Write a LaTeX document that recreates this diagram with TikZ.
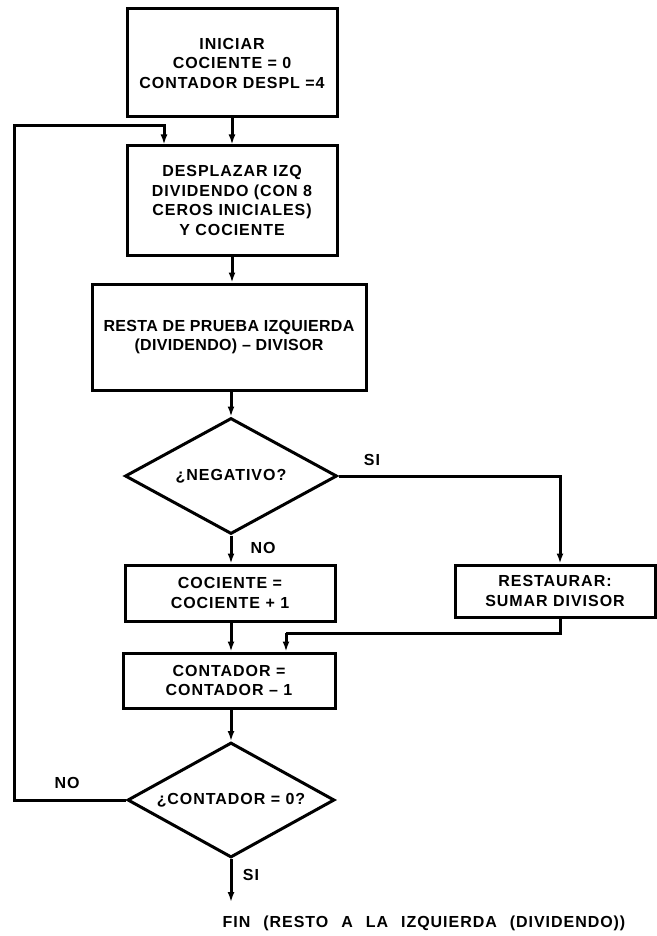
\documentclass[tikz,border=0pt]{standalone}
\usepackage{fontspec}
\setmainfont{Liberation Sans}[LetterSpace=6]
\usetikzlibrary{shapes.geometric,arrows.meta}
\begin{document}
\begin{tikzpicture}[x=1pt,y=-1pt,
  every node/.style={font=\fontsize{16}{19.5}\selectfont\bfseries, align=center, inner sep=0pt},
  box/.style={draw, line width=3pt, rectangle},
  decision/.style={draw, line width=3pt, diamond, aspect=1.8},
  flow/.style={line width=3pt, -{Latex[length=10pt,width=7pt]}},
  wire/.style={line width=3pt},
  lbl/.style={font=\fontsize{16}{19.5}\selectfont\bfseries}]
\useasboundingbox (0,0) rectangle (656,936);

\node[box, minimum width=210pt, minimum height=108pt] (init) at (232,63)
  {INICIAR\\COCIENTE = 0\\CONTADOR DESPL =4};
\node[box, minimum width=210pt, minimum height=109pt] (shift) at (232,200.5)
  {DESPLAZAR IZQ\\DIVIDENDO (CON 8\\CEROS INICIALES)\\Y COCIENTE};
\node[box, minimum width=274pt, minimum height=106pt,
      font=\fontsize{16}{19.5}\selectfont\bfseries\addfontfeature{LetterSpace=2}] (sub) at (229,337)
  {RESTA DE PRUEBA IZQUIERDA\\(DIVIDENDO) -- DIVISOR};
\node[decision, minimum width=212pt, minimum height=116pt] (neg) at (231,476)
  {¿NEGATIVO?};
\node[box, minimum width=210pt, minimum height=56pt] (inc) at (230,593)
  {COCIENTE =\\COCIENTE + 1};
\node[box, minimum width=200pt, minimum height=52pt] (rest) at (555,591)
  {RESTAURAR:\\SUMAR DIVISOR};
\node[box, minimum width=212pt, minimum height=55pt] (dec) at (229,680.5)
  {CONTADOR =\\CONTADOR -- 1};
\node[decision, minimum width=207pt, minimum height=115pt] (zero) at (231,800)
  {¿CONTADOR = 0?};
\node (fin) at (424,923) {\spaceskip=13pt FIN (RESTO A LA IZQUIERDA (DIVIDENDO))};

\coordinate (loopL) at (14,800);
\coordinate (loopT) at (14,126);
\coordinate (loopR) at (164,126);
\coordinate (siR) at (560,476);
\coordinate (mergeA) at (560,633);
\coordinate (mergeB) at (286,633);
\coordinate (endp) at (231,902);

\draw[flow] (init.south -| shift.north) -- (shift.north);
\draw[flow] (shift) -- (shift.south |- sub.north);
\draw[flow] (sub.south -| neg.north) -- (neg.north);
\draw[flow] (neg.south) -- (neg.south |- inc.north);
\draw[flow] (neg.east) -- (siR) -- (siR |- rest.north);
\draw[flow] (inc.south -| neg.south) -- (neg.south |- dec.north);
\draw[wire] (rest.south -| mergeA) -- (mergeA) -- (mergeB);
\draw[flow] (mergeB) -- (mergeB |- dec.north);
\draw[flow] (dec.south -| zero.north) -- (zero.north);
\draw[flow] (zero.west) -- (loopL) -- (loopT) -- (loopR) -- (loopR |- shift.north);
\draw[flow] (zero.south) -- (endp);

\node[lbl] (siA) at (372,460) {SI};
\node[lbl] (noA) at (263,548) {NO};
\node[lbl] (noB) at (67,783) {NO};
\node[lbl] (siB) at (251,875) {SI};
\end{tikzpicture}
\end{document}
